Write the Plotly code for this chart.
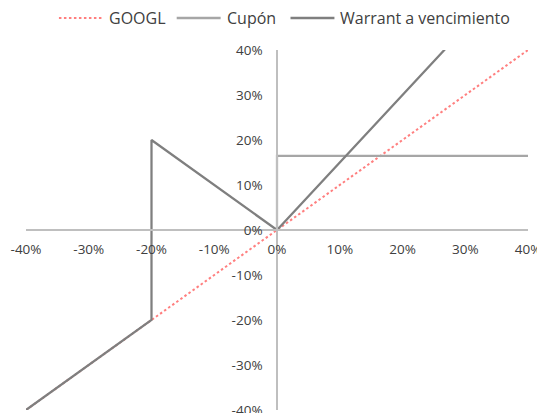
import plotly.graph_objects as go

# Data (fractions)
googl_x = [-0.4, 0.4]
googl_y = [-0.4, 0.4]

cupon_x = [0.0, 0.0, 0.4]
cupon_y = [0.0, 0.165, 0.165]

warrant_x = [-0.4, -0.2, -0.2, 0.0, 0.4]
warrant_y = [-0.4, -0.2, 0.2, 0.0, 0.6]

tick_vals = [-0.4, -0.3, -0.2, -0.1, 0.0, 0.1, 0.2, 0.3, 0.4]
tick_text = ["-40%", "-30%", "-20%", "-10%", "0%", "10%", "20%", "30%", "40%"]

series_names = ["GOOGL", "Cupón", "Warrant a vencimiento"]
series_colors = ["#ff7f7f", "#a6a6a6", "#7f7f7f"]
series_dash = ["2.5px,2.5px", "solid", "solid"]

fig = go.Figure()
for name, xs, ys, col, dash in zip(series_names, [googl_x, cupon_x, warrant_x],
                                   [googl_y, cupon_y, warrant_y], series_colors, series_dash):
    fig.add_trace(go.Scatter(x=xs, y=ys, mode="lines", name=name, showlegend=False,
                             line=dict(color=col, width=2 if dash != "solid" else 2.25, dash=dash)))

# Manual legend (paper coordinates)
leg_y = 1.089
leg_line_x0 = [0.0656, 0.3002, 0.5269]
leg_line_len = 0.0875
for name, col, dash, x0 in zip(series_names, series_colors, series_dash, leg_line_x0):
    fig.add_shape(type="line", xref="paper", yref="paper", x0=x0, x1=x0 + leg_line_len,
                  y0=leg_y, y1=leg_y,
                  line=dict(color=col, width=2 if dash != "solid" else 2.5, dash=dash))
    fig.add_annotation(xref="paper", yref="paper", x=x0 + leg_line_len + 0.008, y=leg_y,
                       xanchor="left", yanchor="middle", text=name, showarrow=False,
                       font=dict(size=16, color="#404040"))

axis_common = dict(
    range=[-0.4, 0.4], showgrid=False, zeroline=False,
    showline=True, linecolor="#bfbfbf", linewidth=1.5,
    tickvals=tick_vals, ticktext=tick_text, ticks="",
    anchor="free", position=0.5, automargin=False,
    tickfont=dict(size=13.5, color="#404040"),
    ticklabeloverflow="allow",
)

fig.update_layout(
    width=545, height=413,
    margin=dict(l=18, r=25, t=42, b=11, autoexpand=False),
    paper_bgcolor="white", plot_bgcolor="white",
    font=dict(family="Open Sans, Noto Sans, sans-serif", size=13.5, color="#404040"),
    xaxis=dict(**axis_common, ticklabelstandoff=7),
    yaxis=dict(**axis_common, ticklabelstandoff=11),
    showlegend=False,
)

fig.write_html("out.html")
